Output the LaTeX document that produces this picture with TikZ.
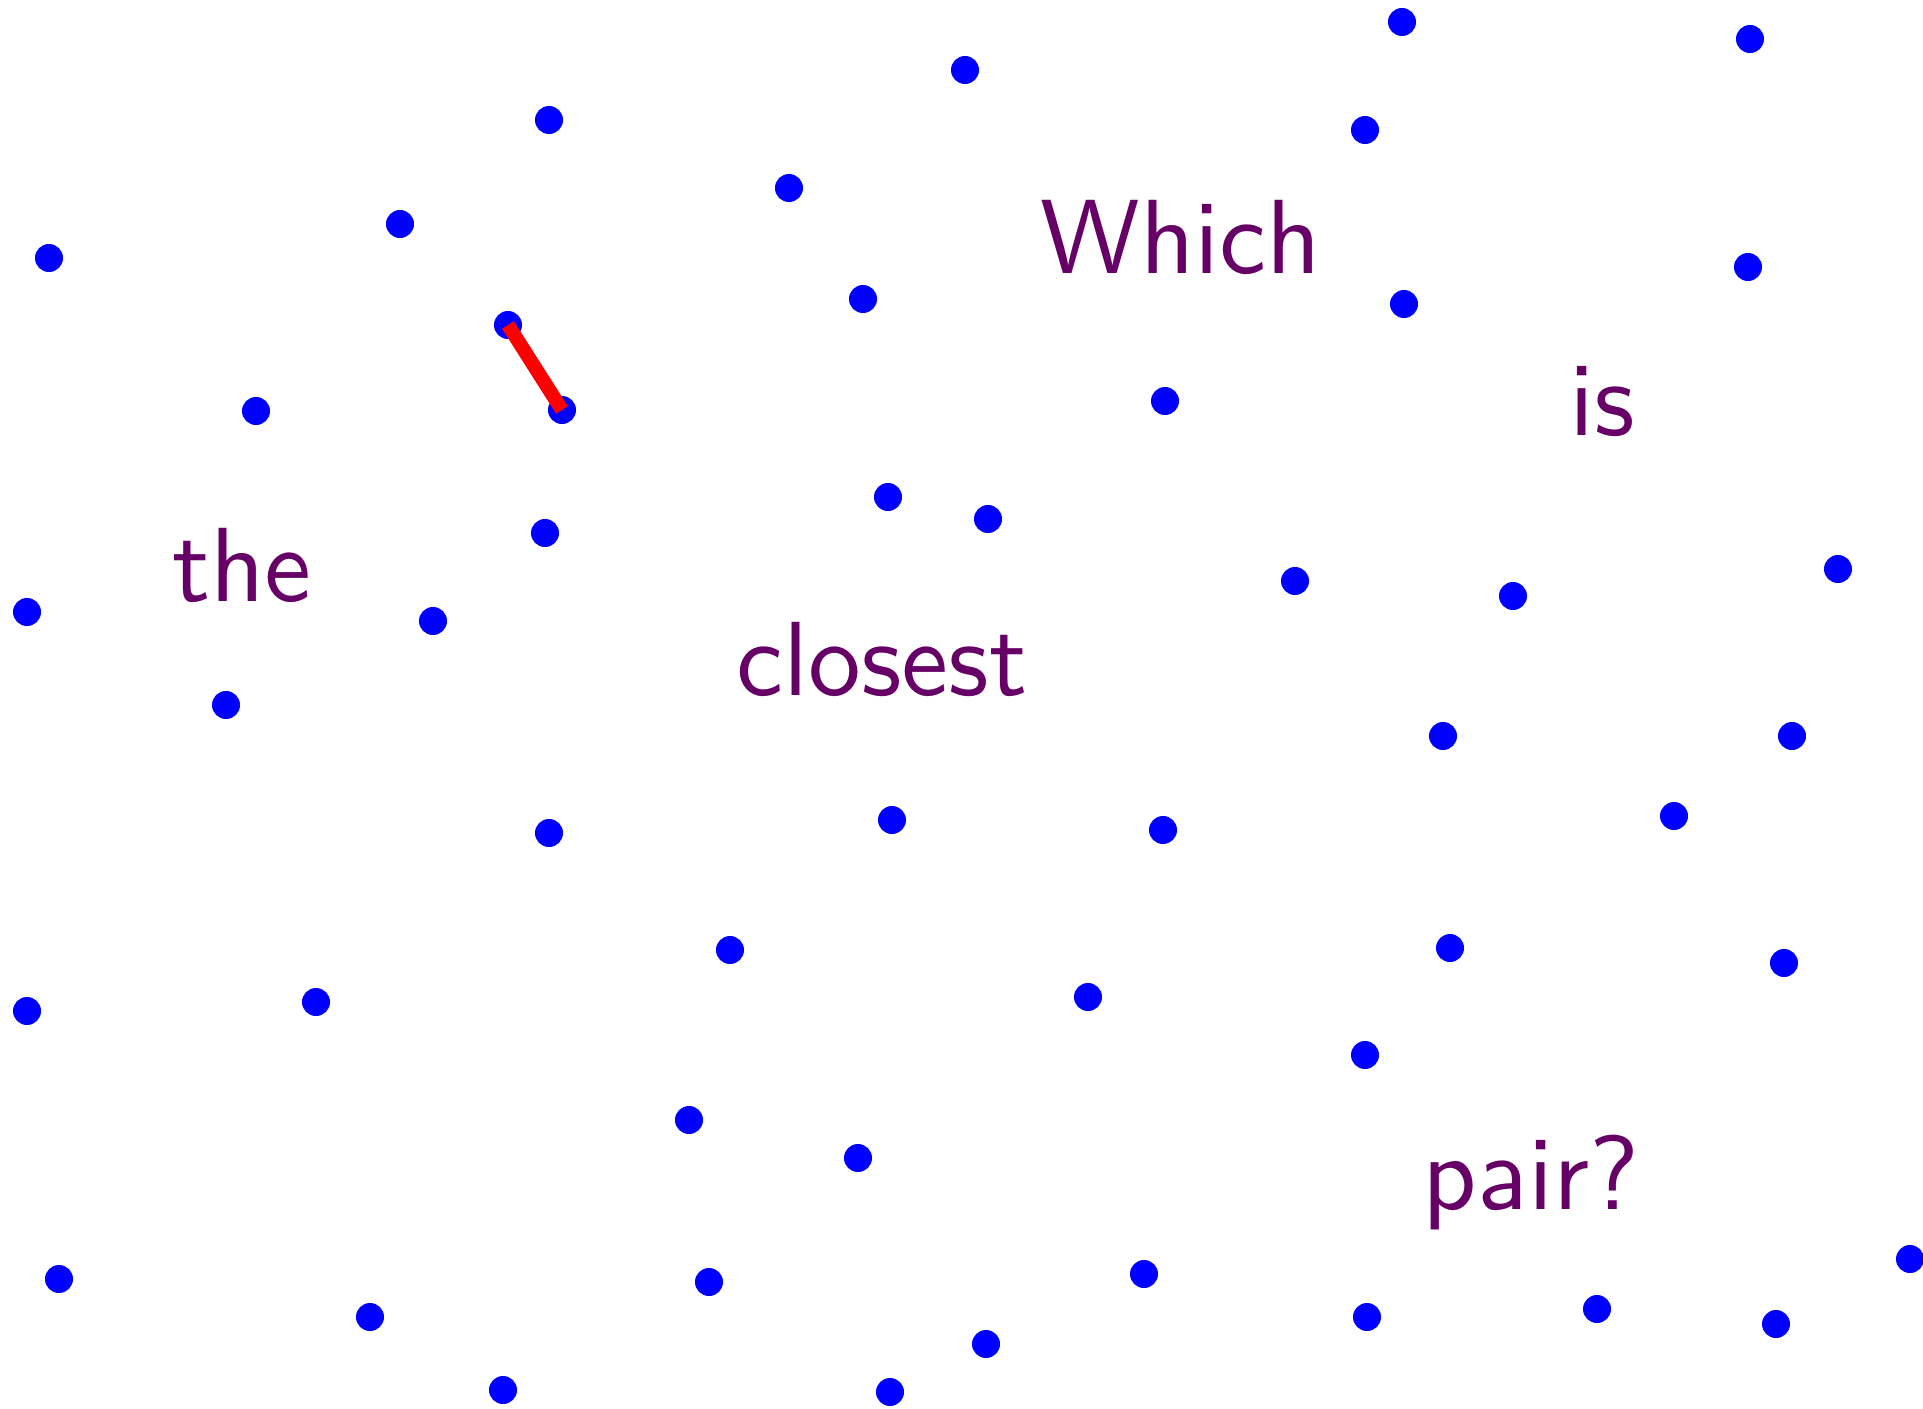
\documentclass[tikz,border=0pt]{standalone}
\usepackage{fontspec}
\newfontfamily\wordfont[Extension=.otf]{lmsans10-regular}
\definecolor{wordcol}{RGB}{102,0,102}
\begin{document}
\begin{tikzpicture}[x=0.01cm,y=-0.01cm,
  dot/.style={circle,fill=blue,inner sep=0pt,minimum size=0.28cm},
  word/.style={text=wordcol,font=\wordfont\fontsize{30}{36}\selectfont,anchor=base,inner sep=0pt},
  pairline/.style={red,line width=0.14cm}]
\useasboundingbox (0,0) rectangle (1923,1409);
\foreach \x/\y [count=\i] in {1402/22,1750/39,965/70,549/120,1365/130,789/188,400/224,49/258,1748/267,863/299,1404/304,508/325,562/410,256/411,1165/401,888/497,988/519,545/533,1838/569,1295/581,1513/596,27/612,433/621,226/705,1443/736,1792/736,1674/816,892/820,549/833,1163/830,730/950,1450/948,1784/963,1088/997,316/1002,27/1011,1365/1055,689/1120,858/1158,59/1279,709/1282,1144/1274,1910/1259,370/1317,1367/1317,1597/1309,1776/1324,986/1344,503/1390,890/1392}
  \node[dot] (d\i) at (\x,\y) {};
\draw[pairline] (d12.center) -- (d13.center);
\node[word] (w1) at (1181,273) {Which};
\node[word] (w2) at (1602,435) {is};
\node[word] (w3) at (242,601) {the};
\node[word] (w4) at (882,695) {closest};
\node[word] (w5) at (1531,1209) {pair?};
\end{tikzpicture}
\end{document}
